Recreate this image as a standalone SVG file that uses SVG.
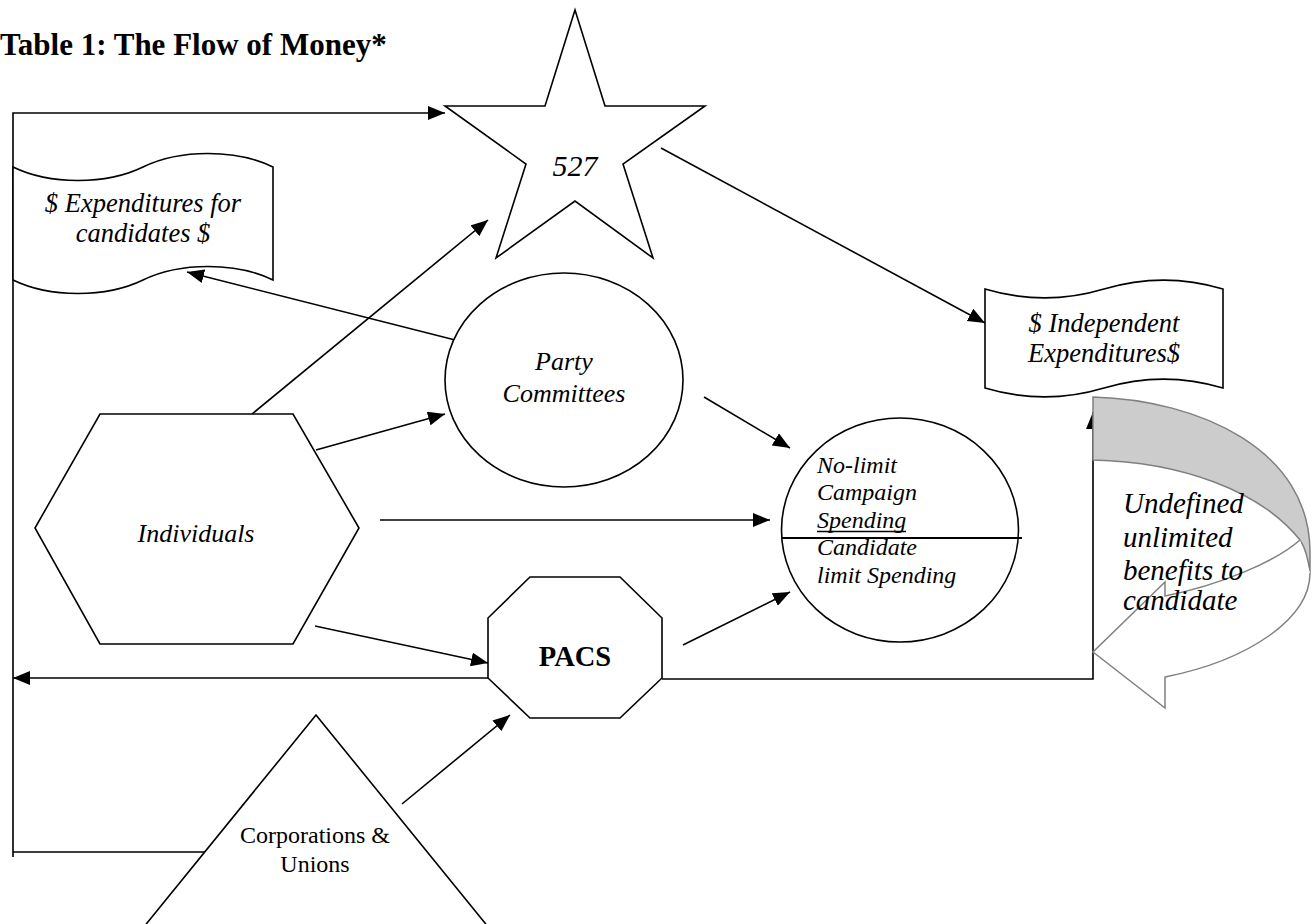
<svg xmlns="http://www.w3.org/2000/svg" width="1316" height="924" viewBox="0 0 1316 924">
<style>
.shape{fill:#fff;stroke:#000;stroke-width:1.6}
.conn{fill:none;stroke:#000;stroke-width:1.6}
.t{font-family:"Liberation Serif","Times New Roman",serif;fill:#000}
.i{font-style:italic}
.c{text-anchor:middle}
.band{stroke:#808080;stroke-width:1.5}
</style>
<defs>
<marker id="ah" markerUnits="userSpaceOnUse" markerWidth="17" markerHeight="14" refX="17" refY="7" orient="auto">
<path d="M0,0 L17,7 L0,14 z" fill="#000"/>
</marker>
</defs>
<rect width="1316" height="924" fill="#fff"/>
<text class="t" x="0" y="55" font-size="31" font-weight="bold">Table 1: The Flow of Money*</text>

<g id="connectors">
<path class="conn" d="M205,852 H13 M13,857 V113 H445" marker-end="url(#ah)"/>
<path class="conn" d="M488,678 H13" marker-end="url(#ah)"/>
<path class="conn" d="M662,679 H1093 V412" marker-end="url(#ah)"/>
<path class="conn" d="M467,343 L187,272" marker-end="url(#ah)"/>
<path class="conn" d="M252,414 L488,220" marker-end="url(#ah)"/>
<path class="conn" d="M316,450 L445,414" marker-end="url(#ah)"/>
<path class="conn" d="M380,520 L770,520" marker-end="url(#ah)"/>
<path class="conn" d="M704,397 L790,448" marker-end="url(#ah)"/>
<path class="conn" d="M315,626 L488,663" marker-end="url(#ah)"/>
<path class="conn" d="M683,645 L790,592" marker-end="url(#ah)"/>
<path class="conn" d="M402,804 L510,715" marker-end="url(#ah)"/>
<path class="conn" d="M661,148 L985,323" marker-end="url(#ah)"/>
</g>

<g id="node-527">
<polygon class="shape" points="575,10 605,106 705,106 623,164 653,258 575,201 496,258 526,164 445,106 545,106"/>
<text class="t i c" x="575" y="176" font-size="30">527</text>
</g>

<g id="node-expenditures">
<path class="shape" d="M13,167 C50,185 106,185 143,167 C180,149 236,149 273,167 L273,280 C236,262 180,262 143,280 C106,298 50,298 13,280 Z"/>
<text class="t i c" x="143" y="212" font-size="26.5">$ Expenditures for</text>
<text class="t i c" x="143" y="242" font-size="26.5">candidates $</text>
</g>

<g id="node-independent">
<path class="shape" d="M985,289 C1025,301 1064,301 1104,289 C1144,277 1183,277 1223,289 L1223,388 C1183,376 1144,376 1104,388 C1064,400 1025,400 985,388 Z"/>
<text class="t i c" x="1104" y="332" font-size="26.5">$ Independent</text>
<text class="t i c" x="1104" y="362" font-size="26.5">Expenditures$</text>
</g>

<g id="node-party">
<ellipse class="shape" cx="564" cy="380" rx="119" ry="107"/>
<text class="t i c" x="564" y="370" font-size="26">Party</text>
<text class="t i c" x="564" y="402" font-size="26">Committees</text>
</g>

<g id="node-individuals">
<polygon class="shape" points="100,414 293,414 359,528 293,644 100,644 35,528"/>
<text class="t i c" x="196" y="542" font-size="26">Individuals</text>
</g>

<g id="node-spending">
<ellipse class="shape" cx="900" cy="530" rx="118.5" ry="112"/>
<line x1="782" y1="538" x2="1022" y2="538" stroke="#000" stroke-width="1.8"/>
<text class="t i" x="817" y="473" font-size="24">No-limit</text>
<text class="t i" x="817" y="500" font-size="24">Campaign</text>
<text class="t i" x="817" y="528" font-size="24">Spending</text>
<line x1="817" y1="531.5" x2="906" y2="531.5" stroke="#000" stroke-width="1.3"/>
<text class="t i" x="817" y="555" font-size="24">Candidate</text>
<text class="t i" x="817" y="583" font-size="24">limit Spending</text>
</g>

<g id="node-pacs">
<polygon class="shape" points="530,577 620,577 662,618 662,678 620,718 530,718 488,678 488,618"/>
<text class="t c" x="575" y="666" font-size="28.5" font-weight="bold">PACS</text>
</g>

<g id="node-corporations">
<polygon class="shape" points="316,715 502,944 130,944"/>
<text class="t c" x="315" y="843" font-size="24">Corporations &amp;</text>
<text class="t c" x="315" y="872" font-size="24">Unions</text>
</g>

<g id="node-benefits">
<path class="band" fill="#cccccc" d="M1093,397 C1200,400 1310,450 1310,552 L1310,573 C1308,556 1304,546 1300,540 C1260,490 1180,462 1093,460 Z"/>
<path class="band" fill="#fff" d="M1310,573 C1310,618 1250,660 1165,677 L1165,708 L1093,652 L1165,582 L1165,596 C1220,585 1275,562 1300,540"/>
<text class="t i" x="1123" y="513" font-size="29">Undefined</text>
<text class="t i" x="1123" y="547" font-size="29">unlimited</text>
<text class="t i" x="1123" y="580" font-size="29">benefits to</text>
<text class="t i" x="1123" y="610" font-size="29">candidate</text>
</g>
</svg>
